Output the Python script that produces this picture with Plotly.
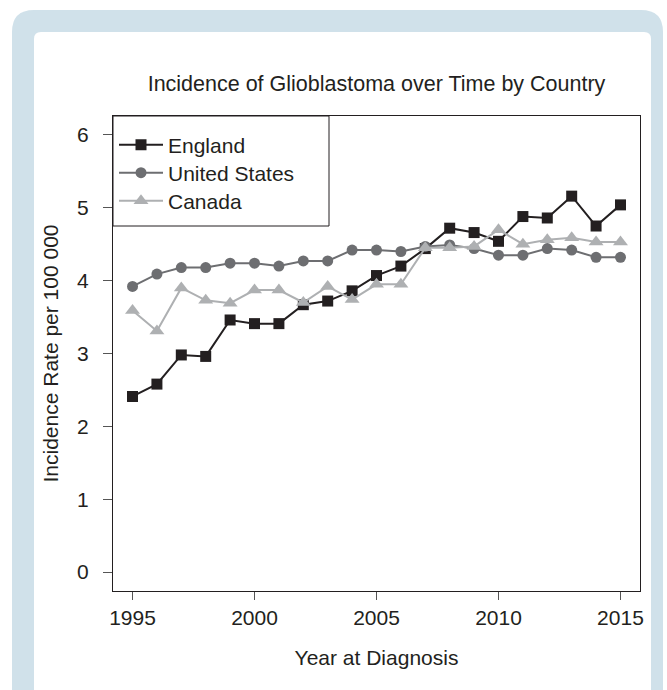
import plotly.graph_objects as go

years = list(range(1995, 2016))
england = [2.41, 2.58, 2.98, 2.96, 3.46, 3.41, 3.41, 3.67, 3.72, 3.86, 4.07,
           4.20, 4.44, 4.72, 4.66, 4.54, 4.88, 4.86, 5.16, 4.75, 5.04]
united_states = [3.92, 4.09, 4.18, 4.18, 4.24, 4.24, 4.20, 4.27, 4.27, 4.42, 4.42,
                 4.40, 4.47, 4.49, 4.44, 4.35, 4.35, 4.44, 4.42, 4.32, 4.32]
canada = [3.59, 3.31, 3.90, 3.73, 3.69, 3.87, 3.87, 3.70, 3.92, 3.74, 3.95,
          3.95, 4.45, 4.45, 4.47, 4.70, 4.50, 4.56, 4.59, 4.53, 4.53]
x_ticks = [1995, 2000, 2005, 2010, 2015]
y_ticks = [0, 1, 2, 3, 4, 5, 6]

W, H = 667, 690
ML, MR, MT, MB = 113, 27, 116, 99
PW, PH = W - ML - MR, H - MT - MB
FONT = "Liberation Sans, Arial, Helvetica, sans-serif"
FS = 21


def px2paper(px, py):
    return (px - ML) / PW, (H - MB - py) / PH


def rounded_rect(x0, y0, x1, y1, r):
    def P(x, y):
        a, b = px2paper(x, y)
        return f"{a:.5f},{b:.5f}"
    return (f"M {P(x0 + r, y0)} L {P(x1 - r, y0)} Q {P(x1, y0)} {P(x1, y0 + r)} "
            f"L {P(x1, y1 - r)} Q {P(x1, y1)} {P(x1 - r, y1)} "
            f"L {P(x0 + r, y1)} Q {P(x0, y1)} {P(x0, y1 - r)} "
            f"L {P(x0, y0 + r)} Q {P(x0, y0)} {P(x0 + r, y0)} Z")


fig = go.Figure()
series = [
    ("England", england, "#231F20", "square", 11, "legend", 145),
    ("United States", united_states, "#6D6E71", "circle", 11, "legend2", 173),
    ("Canada", canada, "#AEB0B2", "triangle-up", 13, "legend3", 201),
]
legends = {}
for name, vals, col, sym, sz, leg, ly in series:
    fig.add_trace(go.Scatter(
        x=years, y=vals, name=name, mode="lines+markers",
        line=dict(color=col, width=2),
        marker=dict(symbol=sym, size=sz, color=col),
        legend=leg,
    ))
    lx, lyp = px2paper(114, ly)
    legends[leg] = dict(x=lx, y=lyp, xanchor="left", yanchor="middle",
                        bgcolor="rgba(0,0,0,0)", borderwidth=0, itemwidth=44,
                        font=dict(size=FS, color="#231F20"))

shapes = [
    dict(type="path", xref="paper", yref="paper", layer="below",
         path=rounded_rect(12, 10, 663, 760, 22),
         fillcolor="#D0E1EA", line=dict(width=0)),
    dict(type="path", xref="paper", yref="paper", layer="below",
         path=rounded_rect(34, 32, 651, 760, 7),
         fillcolor="#FFFFFF", line=dict(width=0)),
]
lx0, ly1 = px2paper(113, 116)
lx1, ly0 = px2paper(329, 226)
shapes.append(dict(type="rect", xref="paper", yref="paper", layer="above",
                   x0=lx0, x1=lx1, y0=ly0, y1=ly1,
                   line=dict(color="#231F20", width=1), fillcolor="rgba(0,0,0,0)"))

fig.update_layout(
    width=W, height=H,
    margin=dict(l=ML, r=MR, t=MT, b=MB, autoexpand=False),
    paper_bgcolor="white", plot_bgcolor="white",
    font=dict(family=FONT, size=FS, color="#231F20"),
    shapes=shapes,
    title=dict(text="Incidence of Glioblastoma over Time by Country",
               x=0.5, xref="paper", xanchor="center",
               y=1 - 83 / H, yref="container", yanchor="middle",
               font=dict(size=21.5, color="#231F20")),
    showlegend=True,
    xaxis=dict(range=[1994.2, 2015.8], tickvals=x_ticks, ticktext=[str(v) for v in x_ticks],
               showgrid=False, zeroline=False, showline=True, mirror=True,
               linecolor="#231F20", linewidth=1,
               ticks="outside", ticklen=8, tickcolor="#555555", tickwidth=1,
               ticklabelstandoff=0,
               title=dict(text="Year at Diagnosis", standoff=22,
                          font=dict(size=FS))),
    yaxis=dict(range=[-0.26, 6.26], tickvals=y_ticks, ticktext=[str(v) for v in y_ticks],
               showgrid=False, zeroline=False, showline=True, mirror=True,
               linecolor="#231F20", linewidth=1,
               ticks="outside", ticklen=9, tickcolor="#555555", tickwidth=1,
               ticklabelstandoff=10,
               title=dict(text="Incidence Rate per 100 000", standoff=12,
                          font=dict(size=FS))),
    **legends,
)

fig.write_html("out.html",
               config={"displayModeBar": False},
               post_script="document.body.style.margin='0';"
                           "document.body.style.overflow='hidden';")
